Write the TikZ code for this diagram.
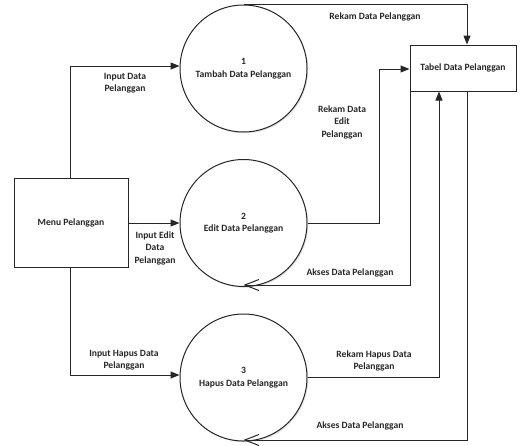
\documentclass[tikz,border=0pt]{standalone}
\usepackage{fontspec}
\setmainfont{Carlito}
\usetikzlibrary{arrows.meta,shadows}
\begin{document}
\begin{tikzpicture}[x=1pt,y=-1pt,
  font=\fontsize{9.6}{12.5}\selectfont\bfseries,
  flow/.style={line width=1pt,draw=black!85,-{Triangle[length=9pt,width=7pt]}},
  access/.style={line width=1pt,draw=black!85,-{Straight Barb[length=14pt,width=11pt,line width=1pt]}},
  process/.style={circle,draw=black!85,line width=1pt,minimum size=127pt,inner sep=0pt,align=center,fill=white,
    drop shadow={shadow xshift=1.2pt,shadow yshift=-1.2pt,opacity=0.25}},
  entity/.style={rectangle,draw=black!85,line width=1pt,align=center,fill=white},
  lbl/.style={align=center,inner sep=0pt,text=black!85}]
\useasboundingbox (0,0) rectangle (526,445);

% processes
\node[process,text=black!85] (p1) at (243.5,68.5) {1\\Tambah Data Pelanggan};
\node[process,text=black!85] (p2) at (243.5,223) {2\\Edit Data Pelanggan};
\node[process,text=black!85] (p3) at (243.5,377.5) {3\\Hapus Data Pelanggan};

% external entity and data store
\node[entity,text=black!85,minimum width=114pt,minimum height=89pt] (menu) at (71,222.5) {Menu Pelanggan};
\node[entity,text=black!85,minimum width=106pt,minimum height=46pt,
  drop shadow={shadow xshift=1.2pt,shadow yshift=-1.2pt,opacity=0.25}] (tabel) at (463,68) {Tabel Data Pelanggan};

% corner points of the orthogonal flows
\coordinate (m1) at (70,66);
\coordinate (m3) at (70,375);
\coordinate (r1) at (467,4);
\coordinate (e1) at (379,223);
\coordinate (e2) at (379,69);
\coordinate (h1) at (439,377);
\coordinate (a1) at (410,285);
\coordinate (a2) at (467,440);

% input flows from the menu
\draw[flow] (menu.north -| m1) -- (m1) -- (p1.west |- m1);
\draw[flow] (menu.east |- p2.west) -- (p2.west);
\draw[flow] (menu.south -| m3) -- (m3) -- (p3.west |- m3);

% recording flows into the table
\draw[flow] (p1.north) -- (p1.north -| r1) -- (tabel.north -| r1);
\draw[flow] (p2.east) -- (e1) -- (e2) -- (tabel.west |- e2);
\draw[flow] (p3.east |- h1) -- (h1) -- (tabel.south -| h1);

% access flows back to the processes
\draw[access] (tabel.south -| a1) -- (a1) -- (p2.south |- a1);
\draw[access] (tabel.south -| a2) -- (a2) -- (p3.south |- a2);

% flow labels
\node[lbl] (l1) at (375,17) {Rekam Data Pelanggan};
\node[lbl] (l2) at (125,83) {Input Data\\Pelanggan};
\node[lbl] (l3) at (342,122) {Rekam Data\\Edit\\Pelanggan};
\node[lbl] (l4) at (155,248) {Input Edit\\Data\\Pelanggan};
\node[lbl] (l5) at (350,273) {Akses Data Pelanggan};
\node[lbl] (l6) at (124,360) {Input Hapus Data\\Pelanggan};
\node[lbl] (l7) at (374,361) {Rekam Hapus Data\\Pelanggan};
\node[lbl] (l8) at (360,426) {Akses Data Pelanggan};
\end{tikzpicture}
\end{document}
